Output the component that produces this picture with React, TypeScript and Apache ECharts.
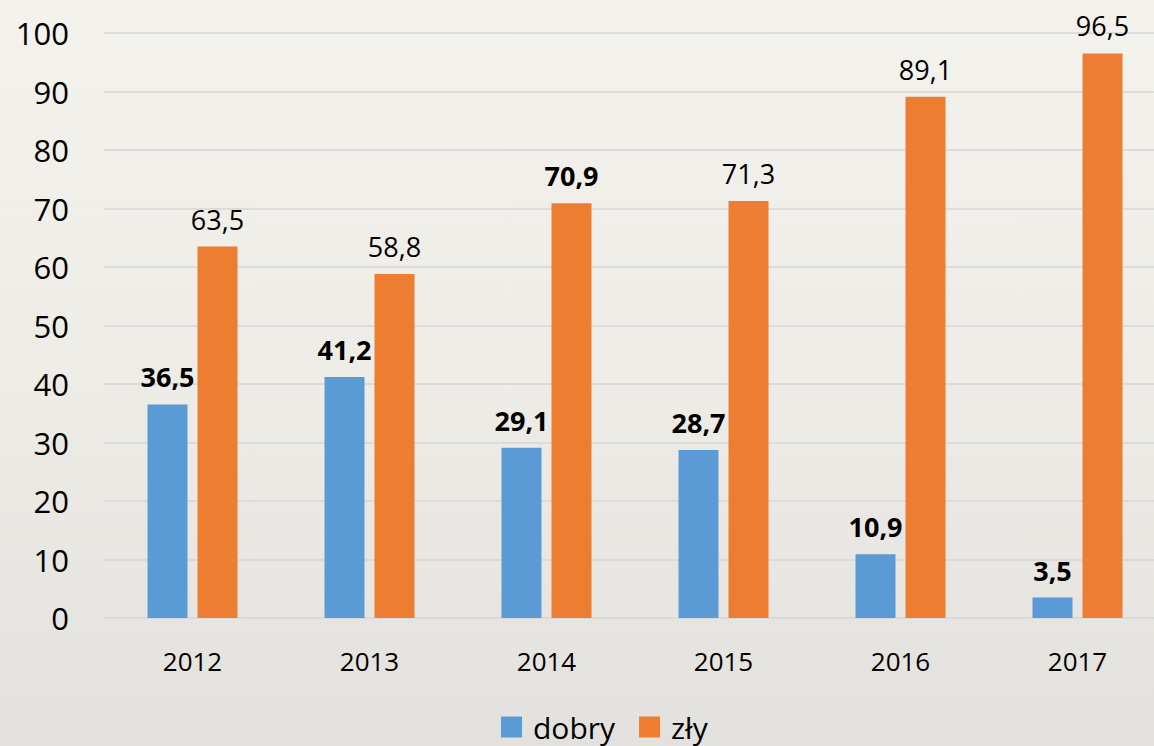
import React, { useEffect, useRef } from "react";
import * as echarts from "echarts";

const years = ["2012", "2013", "2014", "2015", "2016", "2017"];
const dobry = [36.5, 41.2, 29.1, 28.7, 10.9, 3.5];
const zly = [63.5, 58.8, 70.9, 71.3, 89.1, 96.5];
const zlyBold = [false, false, true, false, false, false];
const seriesNames = ["dobry", "zły"];
const yMin = 0;
const yMax = 100;
const yStep = 10;

const FONT = "'Open Sans', sans-serif";
const fmt = (p: any) => String(p.value).replace(".", ",");

export default function App() {
  const ref = useRef<HTMLDivElement>(null);
  useEffect(() => {
    if (!ref.current) return;
    const chart = echarts.init(ref.current, null, { renderer: "svg" });
    chart.setOption({
      animation: false,
      textStyle: { fontFamily: FONT },
      grid: {
        left: 104,
        top: 33,
        bottom: 128,
        right: -12,
        containLabel: false,
        outerBoundsMode: "none",
      },
      legend: {
        data: seriesNames,
        left: 496,
        top: 707,
        itemWidth: 21,
        itemHeight: 21,
        itemGap: 24,
        icon: "rect",
        textStyle: { fontSize: 30, color: "#000", fontFamily: FONT, padding: [0, 0, 0, 6] },
      },
      xAxis: {
        type: "category",
        data: years,
        axisLine: { show: false },
        axisTick: { show: false },
        axisLabel: { fontSize: 26, color: "#000", margin: 30, fontFamily: FONT },
      },
      yAxis: {
        type: "value",
        min: yMin,
        max: yMax,
        interval: yStep,
        axisLine: { show: false },
        axisTick: { show: false },
        axisLabel: { fontSize: 31, color: "#000", margin: 35, fontFamily: FONT },
        splitLine: { show: true, lineStyle: { color: "#d6d6d6", width: 1.5 } },
      },
      series: [
        {
          name: seriesNames[0],
          type: "bar",
          data: dobry,
          barWidth: 40,
          barGap: "25%",
          itemStyle: { color: "#5b9bd5" },
          label: {
            show: true,
            position: "top",
            distance: 14,
            formatter: fmt,
            fontSize: 27,
            fontWeight: "bold",
            color: "#000",
            fontFamily: FONT,
          },
        },
        {
          name: seriesNames[1],
          type: "bar",
          data: zly.map((v, i) => ({
            value: v,
            label: { fontWeight: zlyBold[i] ? "bold" : "normal" },
          })),
          barWidth: 40,
          barGap: "25%",
          itemStyle: { color: "#ed7d31" },
          label: {
            show: true,
            position: "top",
            distance: 14,
            formatter: fmt,
            fontSize: 27,
            color: "#000",
            fontFamily: FONT,
          },
        },
      ],
    });
    return () => chart.dispose();
  }, []);
  return (
    <div
      style={{
        position: "fixed",
        left: 0,
        top: 0,
        width: 1154,
        height: 746,
        background: "linear-gradient(180deg, #f4f2ed 0%, #eeece7 50%, #e3e1dd 100%)",
      }}
    >
      <div ref={ref} style={{ width: 1154, height: 746 }} />
    </div>
  );
}
